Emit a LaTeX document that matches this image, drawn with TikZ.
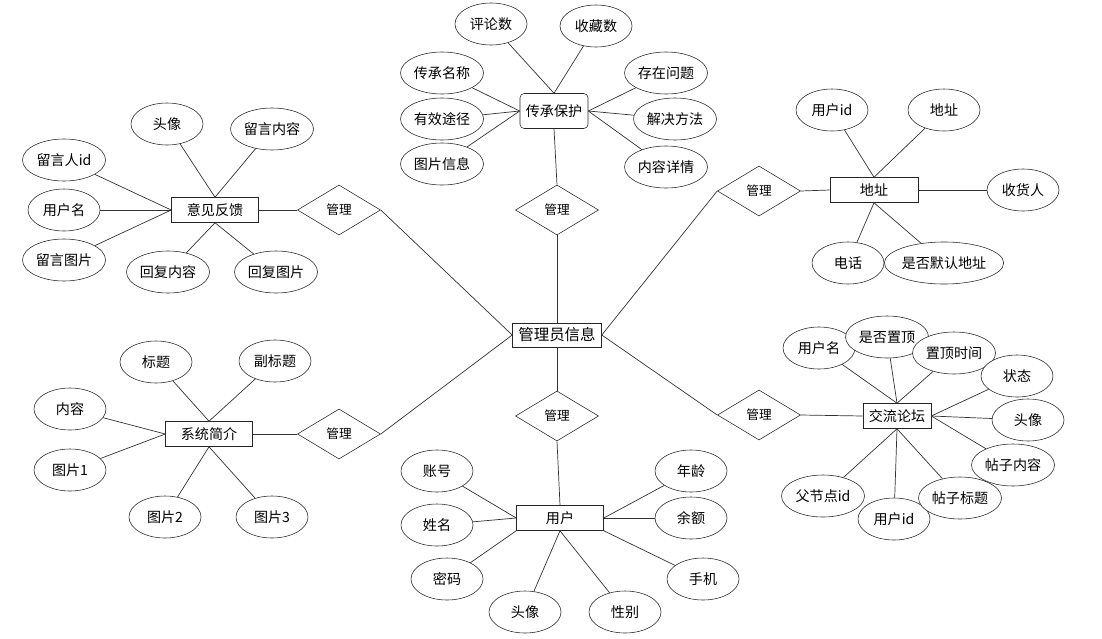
\documentclass[tikz,border=0pt]{standalone}
\usepackage{fontspec}
\setmainfont{Noto Sans CJK SC}
\usepackage{tikz}
\usetikzlibrary{shapes.geometric}
\tikzset{%
  attr/.style={%
    ellipse, draw=black!85, fill=white, inner sep=0pt,
    minimum width=1.8cm, minimum height=1.05cm,
    font=\fontsize{10}{12}\selectfont
  },
  wattr/.style={%
    attr, minimum width=2.075cm
  },
  ent/.style={%
    rectangle, draw=black!85, fill=white, inner sep=0pt,
    minimum width=2.175cm, minimum height=0.625cm,
    font=\fontsize{10}{12}\selectfont
  },
  rel/.style={%
    diamond, draw=black!85, fill=white, inner sep=0pt,
    minimum width=2.075cm, minimum height=1.25cm,
    font=\fontsize{9}{11}\selectfont
  },
  lnk/.style={%
    draw=black!80,
    line width=0.5pt
  }
}

\begin{document}
\begin{tikzpicture}[x=0.025cm,y=-0.025cm]
    \useasboundingbox (0,0) rectangle (1102,638);

    % centre
    \node[ent, minimum width=2.225cm, minimum height=0.6cm,
      font=\fontsize{11}{13}\selectfont] (admin) at (557,335) {管理员信息};

    % heritage
    \node[ent, rounded corners=3pt, minimum width=1.7cm, minimum height=0.875cm] (heri) at (554,111) {传承保护};
    \node[rel] (mgrT) at (557,210) {管理};
    \node[attr] (hComm) at (491,24) {评论数};
    \node[attr] (hFav) at (596,26) {收藏数};
    \node[wattr] (hName) at (442,73) {传承名称};
    \node[wattr] (hWay) at (442,119) {有效途径};
    \node[wattr] (hPic) at (442,164) {图片信息};
    \node[wattr] (hProb) at (666,73) {存在问题};
    \node[wattr] (hSol) at (675,119) {解决方法};
    \node[wattr] (hDet) at (666,167) {内容详情};
    \foreach \a in {hComm,hFav} \draw[lnk] (heri.north) -- (\a);
    \foreach \a in {hName,hWay,hPic} \draw[lnk] (heri.west) -- (\a);
    \foreach \a in {hProb,hSol,hDet} \draw[lnk] (heri.east) -- (\a);
    \draw[lnk] (heri.south) -- (mgrT.north);
    \draw[lnk] (mgrT.south) -- (admin.north);

    % feedback
    \node[ent] (fb) at (215,210) {意见反馈};
    \node[rel] (mgrF) at (339,210) {管理};
    \node[attr] (fAva) at (167,124) {头像};
    \node[wattr] (fMsg) at (272,129) {留言内容};
    \node[wattr] (fUid) at (64,160) {留言人id};
    \node[attr] (fUser) at (64,210) {用户名};
    \node[wattr] (fPic) at (64,260) {留言图片};
    \node[wattr] (fRe) at (168,272) {回复内容};
    \node[wattr] (fRePic) at (276,272) {回复图片};
    \foreach \a in {fAva,fMsg} \draw[lnk] (fb.north) -- (\a);
    \foreach \a in {fUid,fUser,fPic} \draw[lnk] (fb.west) -- (\a);
    \foreach \a in {fRe,fRePic} \draw[lnk] (fb.south) -- (\a);
    \draw[lnk] (fb.east) -- (mgrF.west);
    \draw[lnk] (mgrF.east) -- (admin.west);

    % address
    \node[ent, minimum width=2.2cm] (addr) at (874,190) {地址};
    \node[rel] (mgrA) at (759,191) {管理};
    \node[attr] (aUid) at (832,110) {用户id};
    \node[attr] (aAddr) at (944,110) {地址};
    \node[attr] (aRecv) at (1023,190) {收货人};
    \node[attr] (aTel) at (848,263) {电话};
    \node[attr, minimum width=2.75cm] (aDef) at (944,263) {是否默认地址};
    \foreach \a in {aUid,aAddr} \draw[lnk] (addr.north) -- (\a);
    \draw[lnk] (addr.east) -- (aRecv);
    \foreach \a in {aTel,aDef} \draw[lnk] (addr.south) -- (\a);
    \draw[lnk] (mgrA.east) -- (addr.west);
    \draw[lnk] (mgrA.west) -- (admin.east);

    % intro
    \node[ent] (intro) at (209,434) {系统简介};
    \node[rel] (mgrI) at (339,434) {管理};
    \node[attr] (iTitle) at (156,362) {标题};
    \node[attr] (iSub) at (275,361) {副标题};
    \node[attr] (iText) at (70,409) {内容};
    \node[attr] (iPic1) at (70,470) {图片1};
    \node[attr] (iPic2) at (165,517) {图片2};
    \node[attr] (iPic3) at (272,517) {图片3};
    \foreach \a in {iTitle,iSub} \draw[lnk] (intro.north) -- (\a);
    \foreach \a in {iText,iPic1} \draw[lnk] (intro.west) -- (\a);
    \foreach \a in {iPic2,iPic3} \draw[lnk] (intro.south) -- (\a);
    \draw[lnk] (intro.east) -- (mgrI.west);
    \draw[lnk] (mgrI.east) -- (admin.west);

    % forum
    \node[ent, minimum width=1.7cm] (forum) at (897,416) {交流论坛};
    \node[rel] (mgrB) at (759,415) {管理};
    \node[attr] (pUser) at (819,348) {用户名};
    \node[wattr] (pTop) at (887,337) {是否置顶};
    \node[wattr] (pTime) at (954,353) {置顶时间};
    \node[attr] (pState) at (1017,376) {状态};
    \node[attr] (pAva) at (1028,420) {头像};
    \node[wattr] (pText) at (1013,465) {帖子内容};
    \node[wattr] (pPar) at (823,496) {父节点id};
    \node[attr] (pUid) at (894,519) {用户id};
    \node[wattr] (pTitle) at (960,498) {帖子标题};
    \foreach \a in {pUser,pTop,pTime} \draw[lnk] (forum.north) -- (\a);
    \foreach \a in {pState,pAva,pText} \draw[lnk] (forum.east) -- (\a);
    \foreach \a in {pPar,pUid,pTitle} \draw[lnk] (forum.south) -- (\a);
    \draw[lnk] (mgrB.east) -- (forum.west);
    \draw[lnk] (mgrB.west) -- (admin.east);

    % user
    \node[ent] (user) at (560,518) {用户};
    \node[rel] (mgrU) at (557,416) {管理};
    \node[attr] (uAcc) at (437,471) {账号};
    \node[attr] (uName) at (437,525) {姓名};
    \node[attr] (uPwd) at (447,579) {密码};
    \node[attr] (uAva) at (525,612) {头像};
    \node[attr] (uSex) at (625,612) {性别};
    \node[attr] (uTel) at (703,579) {手机};
    \node[attr] (uAge) at (691,471) {年龄};
    \node[attr] (uBal) at (691,518) {余额};
    \foreach \a in {uAcc,uName} \draw[lnk] (user.west) -- (\a);
    \draw[lnk] (user.south west) -- (uPwd);
    \foreach \a in {uAva,uSex} \draw[lnk] (user.south) -- (\a);
    \draw[lnk] (user.south east) -- (uTel);
    \foreach \a in {uAge,uBal} \draw[lnk] (user.east) -- (\a);
    \draw[lnk] (admin.south) -- (mgrU.north);
    \draw[lnk] (mgrU.south) -- (user.north);
\end{tikzpicture}
\end{document}
